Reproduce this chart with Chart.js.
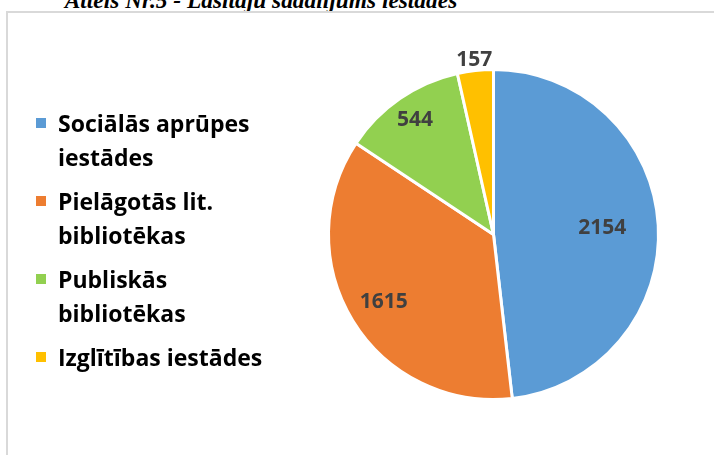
<!DOCTYPE html>
<html>
<head>
<meta charset="utf-8">
<script src="https://cdn.jsdelivr.net/npm/chart.js@4.4.1/dist/chart.umd.min.js"></script>
<style>
  html, body { margin: 0; padding: 0; background: #fff; overflow: hidden; }
  body { width: 714px; height: 455px; position: relative; }
  #title { position: absolute; left: 0; width: 522px; top: -11.2px; text-align: center;
    font-family: "Liberation Serif", "Times New Roman", serif; font-weight: bold; font-style: italic;
    font-size: 23.4px; line-height: 23.4px; color: #000; white-space: nowrap; }
  #frame { position: absolute; left: 6px; top: 11px; width: 720px; height: 460px;
    border-left: 2px solid #d9d9d9; border-top: 2px solid #d9d9d9; box-sizing: border-box; }
  #wrap { position: absolute; left: 0; top: 0; width: 714px; height: 455px; }
  #legend { position: absolute; left: 36px; top: 106px; font-family: "Open Sans", Lato, sans-serif;
    font-weight: bold; font-size: 23px; line-height: 34px; color: #000; white-space: nowrap; }
  .item { position: relative; padding-left: 22px; margin-bottom: 10px; }
  .box { position: absolute; left: 0; top: 12px; width: 10px; height: 10px; }
</style>
</head>
<body>
<div id="title">Attēls Nr.5 - Lasītāju sadalījums iestādēs</div>
<div id="frame"></div>
<div id="wrap"><canvas id="c" width="714" height="455"></canvas></div>
<div id="legend"></div>
<script>
const categories = [
  ["Sociālās aprūpes", "iestādes"],
  ["Pielāgotās lit.", "bibliotēkas"],
  ["Publiskās", "bibliotēkas"],
  ["Izglītības iestādes"]
];
const values = [2154, 1615, 544, 157];
const colors = ["#5B9BD5", "#ED7D31", "#92D050", "#FFC000"];
const labelRadius = [0.66, 0.78, 0.84, 1.065];

const valueLabels = {
  id: "valueLabels",
  afterDatasetsDraw(chart, args, opts) {
    const ctx = chart.ctx;
    const meta = chart.getDatasetMeta(0);
    const data = chart.data.datasets[0].data;
    ctx.save();
    ctx.font = "bold 21px 'Open Sans', Lato, sans-serif";
    ctx.fillStyle = "#404040";
    ctx.textAlign = "center";
    ctx.textBaseline = "middle";
    meta.data.forEach((arc, i) => {
      const p = arc.getProps(["x", "y", "startAngle", "endAngle", "outerRadius"], true);
      const mid = (p.startAngle + p.endAngle) / 2;
      const r = p.outerRadius * opts.radii[i];
      ctx.fillText(String(data[i]), p.x + Math.cos(mid) * r, p.y + Math.sin(mid) * r);
    });
    ctx.restore();
  }
};

const chart = new Chart(document.getElementById("c"), {
  type: "pie",
  data: {
    labels: categories,
    datasets: [{
      data: values,
      backgroundColor: colors,
      borderColor: "#ffffff",
      borderWidth: 3,
      hoverOffset: 0
    }]
  },
  options: {
    responsive: false,
    animation: false,
    radius: 165,
    layout: { padding: { left: 328, right: 55, top: 70, bottom: 56 } },
    plugins: {
      legend: { display: false },
      tooltip: { enabled: false },
      valueLabels: { radii: labelRadius }
    }
  },
  plugins: [valueLabels]
});

const legend = document.getElementById("legend");
chart.data.labels.forEach((lines, i) => {
  const item = document.createElement("div");
  item.className = "item";
  const box = document.createElement("span");
  box.className = "box";
  box.style.background = chart.data.datasets[0].backgroundColor[i];
  item.appendChild(box);
  lines.forEach(t => {
    const l = document.createElement("div");
    l.textContent = t;
    item.appendChild(l);
  });
  legend.appendChild(item);
});
</script>
</body>
</html>
